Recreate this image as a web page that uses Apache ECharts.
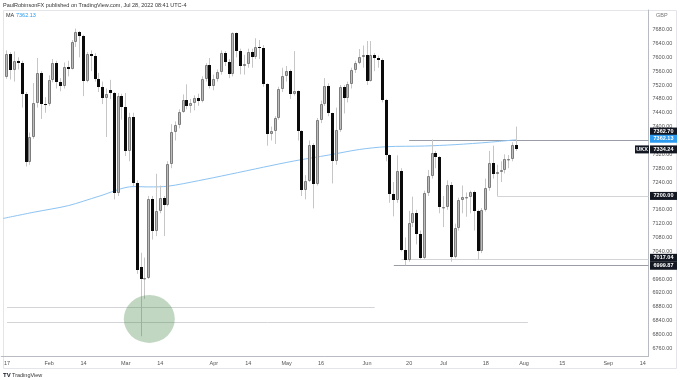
<!DOCTYPE html>
<html><head><meta charset="utf-8">
<script src="https://cdn.jsdelivr.net/npm/echarts@6/dist/echarts.min.js"></script>
<style>html,body{margin:0;padding:0;background:#fff}#c{width:680px;height:380px}</style>
</head><body><div id="c"></div>
<script>
// ---------- DATA ----------
const candleStartDate = '2022-01-17';
const opens = [7542,7611,7563,7589,7585,7494,7297,7371,7469,7554,
7466,7464,7535,7583,7528,7516,7573,7567,7643,7672,
7661,7531,7609,7603,7537,7513,7484,7505,7498,7207,
7489,7458,7330,7429,7238,6995,6959,6964,7191,7099,
7156,7193,7175,7291,7385,7405,7442,7476,7460,7467,
7483,7474,7537,7579,7516,7538,7559,7613,7587,7551,
7669,7618,7576,7580,7616,7601,7629,7628,7522,7380,
7386,7425,7509,7545,7561,7493,7503,7388,7216,7244,
7348,7233,7418,7465,7518,7438,7302,7390,7514,7484,
7522,7564,7585,7600,7608,7533,7608,7598,7593,7476,
7318,7206,7187,7273,7045,7016,7122,7152,7089,7020,
7208,7258,7323,7312,7169,7169,7232,7025,7108,7189,
7196,7197,7210,7156,7040,7159,7223,7296,7264,7270,
7276,7303,7306,7348];
const highs = [7620,7615,7617,7600,7590,7500,7383,7526,7598,7560,
7485,7548,7595,7590,7540,7585,7590,7650,7683,7676,
7665,7615,7620,7612,7555,7530,7510,7535,7500,7497,
7495,7497,7440,7440,7245,7036,7022,7200,7200,7264,
7230,7200,7300,7407,7415,7450,7493,7522,7480,7490,
7495,7545,7583,7598,7550,7565,7620,7618,7595,7672,
7672,7625,7607,7625,7625,7655,7650,7635,7525,7400,
7430,7515,7570,7575,7565,7618,7505,7390,7260,7360,
7352,7425,7475,7540,7525,7440,7455,7520,7520,7530,
7570,7590,7624,7634,7647,7647,7612,7605,7597,7480,
7320,7240,7317,7280,7080,7157,7198,7160,7100,7215,
7275,7362.7,7330,7315,7200,7245,7240,7120,7195,7230,
7210,7215,7215,7160,7165,7250,7330,7345,7290,7300,
7320,7318,7355,7400];
const lows = [7538,7536,7530,7565,7455,7285,7290,7365,7455,7422,
7440,7460,7528,7510,7502,7510,7545,7565,7630,7600,
7488,7528,7560,7530,7500,7465,7370,7480,7190,7200,
7420,7315,7300,7225,6975,6795,6903,6960,7074,7084,
7150,7084,7170,7280,7360,7395,7440,7450,7440,7447,
7460,7470,7530,7510,7505,7530,7550,7575,7540,7545,
7600,7551,7550,7570,7570,7595,7595,7515,7345,7360,
7350,7420,7500,7530,7480,7490,7360,7200,7190,7240,
7164,7230,7410,7460,7430,7236,7290,7385,7438,7470,
7510,7555,7580,7570,7520,7530,7560,7570,7470,7300,
7180,7141,7180,7040,7000,7010,7110,7060,7017,7018,
7200,7250,7280,7150,7110,7160,7010,7020,7100,7150,
7140,7150,7100,7017,7035,7155,7215,7250,7200,7240,
7265,7280,7300,7330];
const closes = [7611,7563,7589,7585,7494,7297,7371,7469,7554,7466,
7464,7535,7583,7528,7516,7573,7567,7643,7672,7661,
7531,7609,7603,7537,7513,7484,7494,7498,7207,7489,
7458,7330,7429,7238,6987,6959,6964,7191,7099,7156,
7193,7175,7291,7385,7405,7442,7476,7460,7467,7483,
7474,7537,7579,7516,7538,7559,7613,7587,7551,7669,
7618,7576,7580,7616,7601,7629,7628,7522,7380,7386,
7425,7509,7545,7561,7493,7503,7388,7216,7244,7348,
7233,7418,7465,7518,7438,7302,7390,7514,7484,7522,
7564,7585,7600,7608,7533,7608,7598,7593,7476,7318,
7206,7187,7273,7045,7016,7122,7152,7089,7020,7208,
7258,7323,7312,7169,7169,7232,7025,7108,7189,7196,
7197,7210,7156,7040,7159,7223,7296,7264,7270,7276,
7306,7306,7348,7334.24];
// 200-day moving average, values at these sessions
const maDates = ['2022-01-14','2022-01-26','2022-02-08','2022-02-18','2022-03-03','2022-03-09','2022-03-16','2022-03-28','2022-04-07','2022-04-22','2022-05-05','2022-05-18','2022-05-30','2022-06-10','2022-06-24','2022-07-06','2022-07-19','2022-07-28'];
const maValues = [7135,7153,7172,7199,7227,7226,7228,7244,7262,7283,7301,7318,7334,7342,7344,7348,7355,7362.13];
// drawn horizontal levels
const levelValues = [7362.70, 7200.00, 7017.04, 6999.87, 6879.4, 6836.1];
const levelStart = ['2022-06-20','2022-07-21','2022-06-16','2022-06-14','2022-01-17','2022-01-17'];
const levelEnd = [null, null, null, null, '2022-06-07', '2022-08-02'];
const levelTone = ['dark','light','light','dark','light','light'];
// highlighted zone (circle)
const zoneDate = '2022-03-09';
const zoneValue = 6845;
// axis ticks
const yTicks = [6760,6800,6840,6880,6920,6960,7000,7040,7080,7120,7160,7200,7240,7280,7320,7360,7400,7440,7480,7520,7560,7600,7640,7680];
const xTickDates = ['2022-01-17','2022-02-01','2022-02-14','2022-03-01','2022-03-14','2022-04-01','2022-04-14','2022-05-03','2022-05-16','2022-06-01','2022-06-20','2022-07-01','2022-07-18','2022-08-01','2022-08-15','2022-09-01','2022-09-14'];
const xTickLabels = ['17','Feb','14','Mar','14','Apr','14','May','16','Jun','20','Jul','18','Aug','15','Sep','14'];
const holidays = ['2022-04-15','2022-04-18','2022-05-02','2022-06-02','2022-06-03','2022-08-29'];
const symbolName = 'UKX';
const currency = 'GBP';

// ---------- sessions (trading-day categories) ----------
function buildSessions(start, count) {
  const out = [];
  let d = new Date(start + 'T00:00:00Z');
  while (out.length < count) {
    const s = d.toISOString().slice(0, 10);
    const wd = d.getUTCDay();
    if (wd !== 0 && wd !== 6 && holidays.indexOf(s) < 0) out.push(s);
    d = new Date(d.getTime() + 86400000);
  }
  return out;
}
const sessions = buildSessions('2022-01-14', 169);
const first = sessions.indexOf(candleStartDate);
const candleData = opens.map((o, i) => [first + i, o, closes[i], lows[i], highs[i]]);
const maSeries = sessions.map(() => null);
maDates.forEach((d, i) => { maSeries[sessions.indexOf(d)] = maValues[i]; });
const levelData = levelValues.map((v, i) => [sessions.indexOf(levelStart[i]), levelEnd[i] ? sessions.indexOf(levelEnd[i]) : -1, v, levelTone[i] === 'dark' ? 1 : 0]);
const tickMap = {};
xTickDates.forEach((d, i) => { tickMap[sessions.indexOf(d)] = xTickLabels[i]; });

const FONT = 'Liberation Sans';
const UP_FILL = '#bdbdbd', UP_BORDER = '#7d7d7d', DOWN = '#0a0a0a', WICK = '#c6c6c6';
const MA_COLOR = '#8cc3f2';

const chart = echarts.init(document.getElementById('c'));
const option = {
  animation: false,
  backgroundColor: '#ffffff',
  grid: { left: 1.25, right: 31.5, top: 10, bottom: 24 },
  xAxis: {
    type: 'category', data: sessions, boundaryGap: true,
    axisLine: { show: true, lineStyle: { color: '#b8bbc2', width: 1 } },
    axisTick: { show: false },
    splitLine: { show: false },
    axisLabel: {
      interval: (idx) => tickMap[idx] !== undefined,
      formatter: (v, idx) => tickMap[idx] || '',
      fontFamily: FONT, fontSize: 5.5, color: '#555', margin: 4
    }
  },
  yAxis: {
    type: 'value', position: 'right', min: 6738.0, max: 7736.6, scale: true,
    axisLine: { show: true, lineStyle: { color: '#b8bbc2', width: 1 } },
    axisTick: { show: false },
    splitLine: { show: false },
    axisLabel: {
      customValues: yTicks,
      formatter: (v) => v.toFixed(2),
      fontFamily: FONT, fontSize: 5.5, color: '#555', margin: 4
    }
  },
  series: [
    {
      type: 'custom', name: 'levels', z: 1,
      renderItem: (params, api) => {
        const s = api.value(0), e = api.value(1), v = api.value(2), dark = api.value(3);
        const p1 = api.coord([s, v]);
        const x2 = e < 0 ? params.coordSys.x + params.coordSys.width : api.coord([e, v])[0];
        const y = Math.round(p1[1]) + 0.5;
        return { type: 'line', shape: { x1: p1[0], y1: y, x2: x2, y2: y },
          style: { stroke: dark ? '#9a9da5' : '#d2d4d8', lineWidth: 1 } };
      },
      data: levelData
    },
    {
      type: 'line', name: 'MA', data: maSeries, connectNulls: true, smooth: 0.3,
      symbol: 'none', z: 2, lineStyle: { color: MA_COLOR, width: 1 }
    },
    {
      type: 'custom', name: 'UKX', z: 3,
      renderItem: (params, api) => {
        const k = api.value(0), o = api.value(1), c = api.value(2), l = api.value(3), h = api.value(4);
        const pO = api.coord([k, o]);
        const yC = api.coord([k, c])[1], yL = api.coord([k, l])[1], yH = api.coord([k, h])[1];
        const col = Math.floor(pO[0]);
        const up = c >= o;
        const top = Math.round(Math.min(pO[1], yC)), bot = Math.round(Math.max(pO[1], yC));
        const hgt = Math.max(bot - top, 1);
        const wick = { type: 'line', shape: { x1: col + 0.5, y1: yH, x2: col + 0.5, y2: yL }, style: { stroke: WICK, lineWidth: 1 } };
        const body = up
          ? { type: 'rect', shape: { x: col - 0.5, y: top + 0.5, width: 2, height: Math.max(hgt - 1, 0.5) }, style: { fill: UP_FILL, stroke: UP_BORDER, lineWidth: 1 } }
          : { type: 'rect', shape: { x: col - 1, y: top, width: 3, height: hgt }, style: { fill: DOWN } };
        return { type: 'group', children: [wick, body] };
      },
      data: candleData
    },
    {
      type: 'scatter', name: 'zone', z: 4,
      data: [[sessions.indexOf(zoneDate), zoneValue]],
      symbol: 'circle', symbolSize: [51, 48], symbolOffset: [0.6, 0],
      itemStyle: { color: 'rgba(70,135,70,0.42)' }, silent: true
    }
  ]
};
chart.setOption(option);

// ---------- price tags on the right axis ----------
const tags = [
  { v: levelValues[0], t: levelValues[0].toFixed(2), bg: '#131722', dy: -8 },
  { v: maValues[maValues.length - 1], t: maValues[maValues.length - 1].toFixed(2), bg: '#2a9bf0', dy: -1 },
  { v: closes[closes.length - 1], t: closes[closes.length - 1].toFixed(2), bg: '#131722', dy: 0, prefix: symbolName },
  { v: levelValues[1], t: levelValues[1].toFixed(2), bg: '#131722', dy: 0 },
  { v: levelValues[2], t: levelValues[2].toFixed(2), bg: '#131722', dy: -1.5 },
  { v: levelValues[3], t: levelValues[3].toFixed(2), bg: '#131722', dy: 0.5 }
];
const gx = 649;
const graphics = [];
// panel frame
graphics.push({ type: 'rect', shape: { x: 3.5, y: 10.5, width: 673, height: 358 }, style: { fill: null, stroke: '#e3e5ea', lineWidth: 1 }, z: 0, silent: true });
tags.forEach((tg) => {
  const y = chart.convertToPixel({ yAxisIndex: 0 }, tg.v) + tg.dy;
  graphics.push({ type: 'rect', shape: { x: gx + 1, y: y - 4, width: 27, height: 8 }, style: { fill: tg.bg }, z: 10 });
  graphics.push({ type: 'text', x: gx + 14.5, y: y, style: { text: tg.t, fill: '#fff', font: 'bold 5.5px ' + FONT, textAlign: 'center', textVerticalAlign: 'middle' }, z: 11 });
  if (tg.prefix) {
    graphics.push({ type: 'rect', shape: { x: gx - 14, y: y - 4, width: 14, height: 8 }, style: { fill: tg.bg }, z: 10 });
    graphics.push({ type: 'text', x: gx - 7, y: y, style: { text: tg.prefix, fill: '#fff', font: 'bold 5.5px ' + FONT, textAlign: 'center', textVerticalAlign: 'middle' }, z: 11 });
  }
});
graphics.push({ type: 'text', x: 656, y: 15, style: { text: currency, fill: '#777', font: '5.5px ' + FONT, textVerticalAlign: 'middle' }, z: 11 });
graphics.push({ type: 'text', x: 3, y: 5, style: { text: 'PaulRobinsonFX published on TradingView.com, Jul 28, 2022 08:41 UTC-4', fill: '#333', font: '5.5px ' + FONT, textVerticalAlign: 'middle' }, z: 11 });
graphics.push({ type: 'text', x: 6, y: 15, style: { text: 'MA', fill: '#333', font: '5.5px ' + FONT, textVerticalAlign: 'middle' }, z: 11 });
graphics.push({ type: 'text', x: 16, y: 15, style: { text: maValues[maValues.length - 1].toFixed(2), fill: '#2a9bf0', font: '5.5px ' + FONT, textVerticalAlign: 'middle' }, z: 11 });
graphics.push({ type: 'text', x: 3, y: 375, style: { text: 'TV', fill: '#131722', font: 'bold 6px ' + FONT, textVerticalAlign: 'middle' }, z: 11 });
graphics.push({ type: 'text', x: 12, y: 375, style: { text: 'TradingView', fill: '#333', font: '5.5px ' + FONT, textVerticalAlign: 'middle' }, z: 11 });
chart.setOption({ graphic: graphics });
</script>
</body></html>
